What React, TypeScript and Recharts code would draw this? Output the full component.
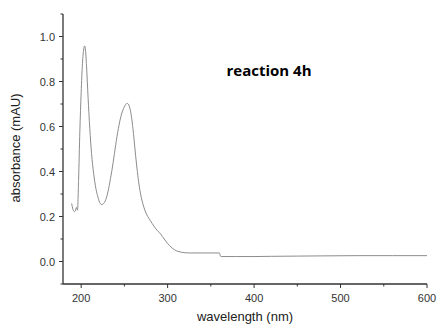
import React from 'react';
import { LineChart, Line, XAxis, YAxis } from 'recharts';

const wavelengths = [
  189, 190.5, 192, 193.2, 194.5, 195.8, 197, 198.5, 200, 201.5, 203, 204, 205, 206.2, 208, 210,
  212, 214.5, 217, 219.5, 222, 224, 226, 228.5, 231, 234, 237, 240, 243, 246, 249, 251.5, 253,
  254.5, 257, 259, 261, 263, 265, 267, 269, 271.5, 274, 277, 280, 284, 288, 292, 296, 300, 304,
  308, 312, 316, 325, 340, 355, 360, 361, 362, 380, 400, 420, 450, 480, 520, 560, 600,
];
const absorbance = [
  0.258, 0.232, 0.222, 0.224, 0.24, 0.228, 0.36, 0.58, 0.75, 0.88, 0.945, 0.958, 0.94, 0.87, 0.73, 0.59,
  0.48, 0.39, 0.325, 0.285, 0.258, 0.253, 0.258, 0.275, 0.31, 0.37, 0.44, 0.52, 0.59, 0.645, 0.68, 0.698, 0.703,
  0.7, 0.67, 0.62, 0.55, 0.47, 0.4, 0.34, 0.295, 0.255, 0.225, 0.2, 0.182, 0.158, 0.138, 0.122, 0.1, 0.08, 0.064,
  0.052, 0.045, 0.041, 0.038, 0.038, 0.038, 0.038, 0.024, 0.022, 0.022, 0.022, 0.023, 0.024, 0.025, 0.026, 0.026, 0.026,
];
const xTicks = [200, 250, 300, 350, 400, 450, 500, 550, 600];
const yTicks = [-0.1, 0, 0.1, 0.2, 0.3, 0.4, 0.5, 0.6, 0.7, 0.8, 0.9, 1.0, 1.1];
const xLabel = 'wavelength (nm)';
const yLabel = 'absorbance (mAU)';
const title = 'reaction 4h';

const data = wavelengths.map((w, i) => ({ wl: w, ab: absorbance[i] }));

const FONT = '"Liberation Sans", Arial, sans-serif';
const AXIS = '#333';

const XTick = (props: any) => {
  const { x, y, payload } = props;
  const v = Math.round(payload.value);
  const major = v % 100 === 0;
  return (
    <g>
      <line x1={x} x2={x} y1={y} y2={y + (major ? 4 : 2.5)} stroke={AXIS} strokeWidth={1} />
      {major && (
        <text x={x} y={y + 18} textAnchor="middle" fontSize={11} fill={AXIS} fontFamily={FONT}>
          {v}
        </text>
      )}
    </g>
  );
};

const YTick = (props: any) => {
  const { x, y, payload } = props;
  const v = Math.round(payload.value * 10);
  const major = v % 2 === 0 && v >= 0 && v <= 10;
  return (
    <g>
      <line x1={x} x2={x - (major ? 4 : 2.5)} y1={y} y2={y} stroke={AXIS} strokeWidth={1} />
      {major && (
        <text x={x - 8} y={y + 4} textAnchor="end" fontSize={11} fill={AXIS} fontFamily={FONT}>
          {(v / 10).toFixed(1)}
        </text>
      )}
    </g>
  );
};

export default function App() {
  return (
    <div style={{ position: 'absolute', left: 0, top: 0, width: 437, height: 327, background: '#fff' }}>
      <LineChart width={437} height={327} data={data} margin={{ top: 14, right: 10, bottom: 13, left: 0 }}>
        <XAxis
          dataKey="wl"
          type="number"
          domain={[179, 600]}
          ticks={xTicks}
          interval={0}
          tickSize={0}
          tickMargin={0}
          tickLine={false}
          tick={<XTick />}
          axisLine={{ stroke: AXIS, strokeWidth: 1.3 }}
          height={30}
          allowDataOverflow
        />
        <YAxis
          type="number"
          domain={[-0.1, 1.1]}
          ticks={yTicks}
          interval={0}
          tickSize={0}
          tickMargin={0}
          tickLine={false}
          tick={<YTick />}
          axisLine={{ stroke: AXIS, strokeWidth: 1.3 }}
          width={63}
          allowDataOverflow
        />
        <Line
          type="monotone"
          dataKey="ab"
          stroke="#8c8c8c"
          strokeWidth={1}
          dot={false}
          isAnimationActive={false}
        />
      </LineChart>
      <svg
        width={437}
        height={327}
        style={{ position: 'absolute', left: 0, top: 0, pointerEvents: 'none' }}
      >
        <text x={269} y={76} textAnchor="middle" fontSize={15} fontWeight="bold" fill="#000" fontFamily='"Open Sans", sans-serif'>
          {title}
        </text>
        <text x={245} y={321} textAnchor="middle" fontSize={13} fill="#222" fontFamily={FONT}>
          {xLabel}
        </text>
        <text x={20} y={148} textAnchor="middle" fontSize={13} fill="#222" fontFamily={FONT} transform="rotate(-90 20 148)">
          {yLabel}
        </text>
      </svg>
    </div>
  );
}
